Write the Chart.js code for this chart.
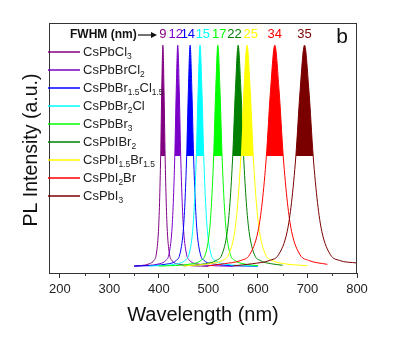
<!DOCTYPE html>
<html>
<head>
<meta charset="utf-8">
<script src="https://cdn.jsdelivr.net/npm/chart.js@4/dist/chart.umd.min.js"></script>
<style>
  html, body { margin: 0; padding: 0; background: #fff; }
  #pl-chart { display: block; }
</style>
</head>
<body>
<canvas id="pl-chart" width="395" height="345"></canvas>
<script>
// compositions, "_x" marks a subscript
const compounds = ['CsPbCl_3', 'CsPbBrCl_2', 'CsPbBr_1.5Cl_1.5', 'CsPbBr_2Cl', 'CsPbBr_3',
  'CsPbIBr_2', 'CsPbI_1.5Br_1.5', 'CsPbI_2Br', 'CsPbI_3'];
const fwhmNm = [9, 12, 14, 15, 17, 22, 25, 34, 35];
const xTicks = [200, 300, 400, 500, 600, 700, 800];
const xMinorTicks = [250, 350, 450, 550, 650, 750];

// normalised PL spectra (wavelength nm / intensity)
const wlCl3 = [350, 381, 390, 394.5, 399, 401.25, 403.5, 405.75, 408, 410.25, 412.5, 414.75, 417, 421.5, 426, 435, 500];
const plCl3 = [0.004, 0.015, 0.03, 0.055, 0.16, 0.29, 0.5, 0.8, 1, 0.8, 0.5, 0.29, 0.16, 0.055, 0.03, 0.015, 0.003];
const wlBrCl2 = [350, 402, 414, 420, 426, 429, 432, 435, 438, 441, 444, 447, 450, 456, 462, 474, 550];
const plBrCl2 = [0.004, 0.015, 0.03, 0.055, 0.16, 0.29, 0.5, 0.8, 1, 0.8, 0.5, 0.29, 0.16, 0.055, 0.03, 0.015, 0.003];
const wlBrCl = [350, 421, 435, 442, 449, 452.5, 456, 459.5, 463, 466.5, 470, 473.5, 477, 484, 491, 505, 600];
const plBrCl = [0.004, 0.015, 0.03, 0.055, 0.16, 0.29, 0.5, 0.8, 1, 0.8, 0.5, 0.29, 0.16, 0.055, 0.03, 0.015, 0.003];
const wlBr2Cl = [380, 438, 453, 460.5, 468, 471.75, 475.5, 479.25, 483, 486.75, 490.5, 494.25, 498, 505.5, 513, 528, 600];
const plBr2Cl = [0.004, 0.015, 0.03, 0.055, 0.16, 0.29, 0.5, 0.8, 1, 0.8, 0.5, 0.29, 0.16, 0.055, 0.03, 0.015, 0.004];
const wlBr3 = [400, 468, 485, 493.5, 502, 506.25, 510.5, 514.75, 519, 523.25, 527.5, 531.75, 536, 544.5, 553, 570, 600];
const plBr3 = [0.004, 0.015, 0.03, 0.055, 0.16, 0.29, 0.5, 0.8, 1, 0.8, 0.5, 0.29, 0.16, 0.055, 0.03, 0.015, 0.006];
const wlIBr2 = [450, 494, 516, 527, 538, 543.5, 549, 554.5, 560, 565.5, 571, 576.5, 582, 593, 604, 626, 650];
const plIBr2 = [0.005, 0.015, 0.03, 0.055, 0.16, 0.29, 0.5, 0.8, 1, 0.8, 0.5, 0.29, 0.16, 0.055, 0.03, 0.015, 0.008];
const wlIBr = [450, 503, 528, 540.5, 553, 559.25, 565.5, 571.75, 578, 584.25, 590.5, 596.75, 603, 615.5, 628, 653, 700];
const plIBr = [0.005, 0.015, 0.03, 0.055, 0.16, 0.29, 0.5, 0.8, 1, 0.8, 0.5, 0.29, 0.16, 0.055, 0.03, 0.015, 0.006];
const wlI2Br = [500, 532, 566, 583, 600, 608.5, 617, 625.5, 634, 642.5, 651, 659.5, 668, 685, 702, 740];
const plI2Br = [0.005, 0.015, 0.03, 0.055, 0.16, 0.29, 0.5, 0.8, 1, 0.8, 0.5, 0.29, 0.16, 0.055, 0.03, 0.012];
const wlI3 = [550, 589, 624, 641.5, 659, 667.75, 676.5, 685.25, 694, 702.75, 711.5, 720.25, 729, 746.5, 764, 800];
const plI3 = [0.005, 0.015, 0.03, 0.055, 0.16, 0.29, 0.5, 0.8, 1, 0.8, 0.5, 0.29, 0.16, 0.055, 0.03, 0.018];

const spectra = [
  [wlCl3, plCl3], [wlBrCl2, plBrCl2], [wlBrCl, plBrCl], [wlBr2Cl, plBr2Cl], [wlBr3, plBr3],
  [wlIBr2, plIBr2], [wlIBr, plIBr], [wlI2Br, plI2Br], [wlI3, plI3]
];

const colors = ['#800080', '#7a00c8', '#0000ff', '#00ffff', '#00ff00',
  '#008000', '#ffff00', '#ff0000', '#7a0000'];

const FONT = "'Liberation Sans', Arial, sans-serif";
const NARROW = "'Liberation Sans Narrow', 'Arial Narrow', 'Liberation Sans', sans-serif";

const datasets = [];
spectra.forEach(([wl, pl], i) => {
  const pts = wl.map((x, j) => ({ x: x, y: pl[j] }));
  // thin outline of the whole spectrum
  datasets.push({
    data: pts,
    borderColor: colors[i],
    borderWidth: 1,
    pointRadius: 0,
    fill: false,
    cubicInterpolationMode: 'monotone',
    order: 100 - i
  });
  // solid area above half maximum
  datasets.push({
    data: pts.filter(p => p.y >= 0.5),
    borderWidth: 0,
    borderColor: colors[i],
    backgroundColor: colors[i],
    pointRadius: 0,
    fill: { value: 0.5 },
    cubicInterpolationMode: 'monotone',
    order: 50 - i
  });
});

function drawLabel(ctx, label, x, y, size) {
  const parts = label.split(/_([\d.]+)/);
  parts.forEach((part, k) => {
    const sub = k % 2 === 1;
    ctx.font = (sub ? size * 0.65 : size) + 'px ' + FONT;
    ctx.fillText(part, x, sub ? y + 5 : y);
    x += ctx.measureText(part).width;
  });
}

const decorations = {
  id: 'decorations',
  afterDraw(chart) {
    const { ctx, chartArea: a, scales: { x, y } } = chart;
    ctx.save();

    // frame
    ctx.strokeStyle = '#333';
    ctx.lineWidth = 1;
    ctx.strokeRect(a.left + 0.5, a.top + 0.5, a.right - a.left - 1, a.bottom - a.top);

    // minor ticks
    ctx.beginPath();
    xMinorTicks.forEach(v => {
      const px = Math.round(x.getPixelForValue(v)) + 0.5;
      ctx.moveTo(px, a.bottom);
      ctx.lineTo(px, a.bottom + 3);
    });
    ctx.stroke();

    // FWHM values above each peak, nudged apart where they would touch
    ctx.textAlign = 'center';
    ctx.textBaseline = 'middle';
    ctx.font = '13px ' + NARROW;
    const labels = spectra.map(([wl, pl], i) => {
      const text = String(fwhmNm[i]);
      const peak = wl[pl.indexOf(Math.max(...pl))];
      return { text, px: x.getPixelForValue(peak), w: ctx.measureText(text).width };
    });
    for (let k = 1; k < labels.length; k++) {
      const prev = labels[k - 1], cur = labels[k];
      const gap = (cur.px - cur.w / 2) - (prev.px + prev.w / 2) - 2;
      if (gap < 0) {
        prev.px += gap / 2;
        cur.px -= gap / 2;
      }
    }
    labels.forEach((l, i) => {
      ctx.fillStyle = colors[i];
      ctx.fillText(l.text, l.px, y.getPixelForValue(1.05));
    });

    // header with arrow
    ctx.fillStyle = '#111';
    ctx.textAlign = 'left';
    ctx.font = 'bold 12px ' + FONT;
    ctx.fillText('FWHM (nm)', 70, 35);
    ctx.strokeStyle = '#111';
    ctx.lineWidth = 1.2;
    ctx.beginPath();
    ctx.moveTo(138, 35);
    ctx.lineTo(154, 35);
    ctx.stroke();
    ctx.beginPath();
    ctx.moveTo(157, 35);
    ctx.lineTo(151, 32);
    ctx.lineTo(151, 38);
    ctx.closePath();
    ctx.fill();

    // panel letter
    ctx.textAlign = 'center';
    ctx.font = '21px ' + FONT;
    ctx.fillText('b', 342, 37);

    // y axis title
    ctx.save();
    ctx.translate(32, (a.top + a.bottom) / 2 + 2);
    ctx.rotate(-Math.PI / 2);
    ctx.font = '19.5px ' + FONT;
    ctx.fillText('PL Intensity (a.u.)', 0, 0);
    ctx.restore();

    // legend
    ctx.textAlign = 'left';
    compounds.forEach((name, i) => {
      const ly = 52 + i * 18;
      ctx.strokeStyle = colors[i];
      ctx.lineWidth = 1.5;
      ctx.beginPath();
      ctx.moveTo(48, ly);
      ctx.lineTo(80, ly);
      ctx.stroke();
      ctx.fillStyle = '#222';
      drawLabel(ctx, name, 83, ly, 13);
    });
    ctx.restore();
  }
};

new Chart(document.getElementById('pl-chart'), {
  type: 'line',
  data: { datasets: datasets },
  options: {
    responsive: false,
    animation: false,
    events: [],
    layout: { padding: { top: 23, right: 38, bottom: 0, left: 0 } },
    scales: {
      x: {
        type: 'linear',
        min: 178,
        max: 800,
        afterBuildTicks: s => { s.ticks = xTicks.map(v => ({ value: v })); },
        afterFit: s => { s.height = 72; },
        border: { display: false },
        grid: { display: true, drawOnChartArea: false, drawTicks: true, tickLength: 5, tickColor: '#333' },
        ticks: { color: '#222', padding: 4, font: { size: 13, family: FONT } },
        title: {
          display: true,
          text: 'Wavelength (nm)',
          color: '#111',
          font: { size: 20, family: FONT },
          padding: { top: 0, bottom: 18 }
        }
      },
      y: {
        min: -0.027,
        max: 1.1,
        afterFit: s => { s.width = 49; },
        border: { display: false },
        grid: { display: false },
        ticks: { display: false },
        title: { display: false }
      }
    },
    plugins: {
      legend: { display: false },
      tooltip: { enabled: false }
    }
  },
  plugins: [decorations]
});
</script>
</body>
</html>
